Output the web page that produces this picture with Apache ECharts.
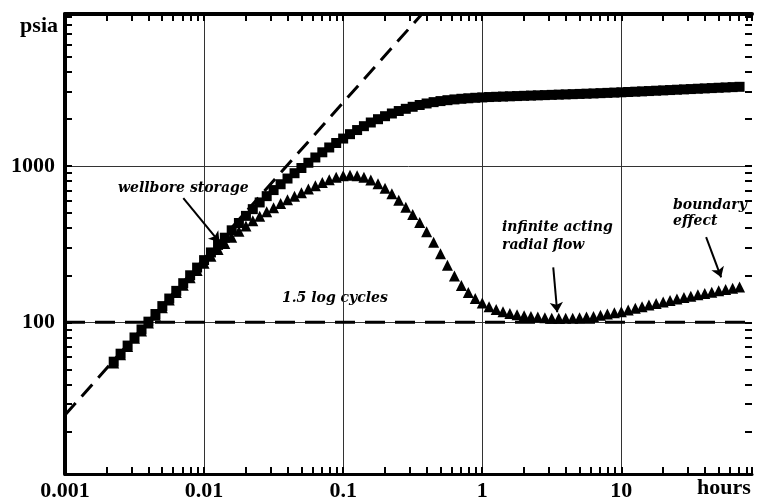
<!DOCTYPE html>
<html>
<head>
<meta charset="utf-8">
<style>
  html, body { margin: 0; padding: 0; background: #fff; }
  #chart { width: 757px; height: 504px; }
</style>
<script src="https://cdn.jsdelivr.net/npm/echarts@6/dist/echarts.min.js"></script>
</head>
<body>
<div id="chart"></div>
<script>
// elapsed time, hours
var hours = [0.00224, 0.00251, 0.00282, 0.00316, 0.00355, 0.00398, 0.00447, 0.00501, 0.00562, 0.00631, 0.00708, 0.00794, 0.00891,
  0.01, 0.0112, 0.0126, 0.0141, 0.0158, 0.0178, 0.02, 0.0224, 0.0251, 0.0282, 0.0316, 0.0355, 0.0398, 0.0447, 0.0501, 0.0562, 0.0631, 0.0708, 0.0794, 0.0891,
  0.1, 0.112, 0.126, 0.141, 0.158, 0.178, 0.2, 0.224, 0.251, 0.282, 0.316, 0.355, 0.398, 0.447, 0.501, 0.562, 0.631, 0.708, 0.794, 0.891,
  1, 1.12, 1.26, 1.41, 1.58, 1.78, 2, 2.24, 2.51, 2.82, 3.16, 3.55, 3.98, 4.47, 5.01, 5.62, 6.31, 7.08, 7.94, 8.91,
  10, 11.2, 12.6, 14.1, 15.8, 17.8, 20, 22.4, 25.1, 28.2, 31.6, 35.5, 39.8, 44.7, 50.1, 56.2, 63.1, 70.8];

// pressure change (squares)
var pressure = [56, 63, 71, 80, 90, 101, 113, 127, 142, 159, 178, 200, 224,
  250, 280, 313, 348, 388, 432, 480, 530, 585, 642, 702, 765, 832, 900, 972, 1050, 1135, 1225, 1315, 1405,
  1500, 1600, 1700, 1800, 1900, 1995, 2085, 2170, 2250, 2325, 2395, 2460, 2515, 2565, 2605, 2640, 2670, 2695, 2715, 2735,
  2750, 2765, 2775, 2785, 2795, 2805, 2815, 2825, 2835, 2845, 2855, 2865, 2875, 2885, 2895, 2905, 2915, 2928, 2940, 2952,
  2965, 2978, 2992, 3006, 3020, 3035, 3050, 3065, 3080, 3095, 3110, 3125, 3140, 3155, 3170, 3185, 3200, 3215];

// pressure derivative (triangles)
var derivative = [55, 62, 70, 79, 88, 99, 111, 124, 139, 155, 173, 193, 215,
  239, 265, 292, 320, 350, 382, 414, 446, 478, 510, 542, 575, 608, 642, 676, 712, 748, 784, 818, 848,
  868, 875, 868, 848, 815, 770, 720, 665, 605, 545, 490, 435, 380, 325, 275, 232, 198, 172, 155, 142,
  133, 126, 121, 117, 114, 112, 110, 109, 108, 107, 106, 106, 106, 106, 107, 108, 109, 111, 113, 115,
  117, 120, 123, 126, 129, 132, 135, 138, 141, 144, 147, 150, 153, 156, 159, 162, 165, 168];

var storageLine = [[0.001, 25.5], [0.4, 10200]];
var radialLine = [[0.001, 100], [87, 100]];

var xLabels = ['0.001', '0.01', '0.1', '1', '10'];
var yLabels = ['100', '1000'];

// arrows: [from, to]
var arrows = [
  [[0.00709, 624], [0.0129, 326]],
  [[3.24, 225], [3.46, 116]],
  [[40.7, 351], [52.2, 194]]
];

var xMin = 0.001, xMax = 87, yMin = 10.7, yMax = 9400;
var serif = 'Liberation Serif';
var noteFont = 'DejaVu Serif';

var dom = document.getElementById('chart');
var myChart = echarts.init(dom);

function pairs(xs, ys) {
  return xs.map(function (x, i) { return [x, ys[i]]; });
}

// only decade values get a label, picked from the label lists
function decadeLabel(list) {
  return function (v) {
    var s = String(+Number(v).toPrecision(6));
    return list.indexOf(s) >= 0 ? s : '';
  };
}

// axis carrying only the inward ticks (no line, labels or grid lines)
function tickAxis(grid, pos, isX) {
  return {
    type: 'log', logBase: 10, gridIndex: grid, position: pos,
    min: isX ? xMin : yMin, max: isX ? xMax : yMax,
    axisLine: { show: false },
    axisTick: { show: true, inside: true, length: 7, lineStyle: { color: '#000', width: 2 } },
    minorTick: { show: true, splitNumber: 9, length: 7, lineStyle: { color: '#000', width: 2 } },
    axisLabel: { show: false },
    splitLine: { show: false }
  };
}

function note(x, y, text) {
  return { type: 'text', x: x, y: y, style: { text: text, fontFamily: noteFont,
    fontWeight: 'bold', fontStyle: 'italic', fontSize: 14, fill: '#000', verticalAlign: 'middle' } };
}

var gridBox = { left: 65, right: 5, top: 14, bottom: 30, outerBoundsMode: 'none' };

option = {
  backgroundColor: '#fff',
  animation: false,
  grid: [Object.assign({}, gridBox), Object.assign({}, gridBox)],
  xAxis: [
    {
      type: 'log', logBase: 10, gridIndex: 0, position: 'bottom', min: xMin, max: xMax,
      axisLine: { show: true, lineStyle: { color: '#000', width: 3 } },
      axisTick: { show: false },
      axisLabel: { margin: 6, color: '#000', fontFamily: serif, fontWeight: 'bold', fontSize: 22,
        formatter: decadeLabel(xLabels) },
      splitLine: { show: true, lineStyle: { color: ['#333', '#333', '#333', '#333', '#333', 'rgba(0,0,0,0)'], width: 1 } }
    },
    {
      type: 'log', logBase: 10, gridIndex: 0, position: 'top', min: xMin, max: xMax,
      axisLine: { show: true, lineStyle: { color: '#000', width: 4 } },
      axisTick: { show: false }, axisLabel: { show: false }, splitLine: { show: false }
    },
    tickAxis(1, 'bottom', true),
    tickAxis(1, 'top', true)
  ],
  yAxis: [
    {
      type: 'log', logBase: 10, gridIndex: 0, position: 'left', min: yMin, max: yMax,
      axisLine: { show: true, lineStyle: { color: '#000', width: 4 } },
      axisTick: { show: false },
      axisLabel: { margin: 10, color: '#000', fontFamily: serif, fontWeight: 'bold', fontSize: 22,
        formatter: decadeLabel(yLabels) },
      splitLine: { show: true, lineStyle: { color: '#333', width: 1 } }
    },
    tickAxis(0, 'right', false),
    tickAxis(1, 'left', false)
  ],
  series: [
    {
      name: 'storage', type: 'line', xAxisIndex: 0, yAxisIndex: 0,
      data: storageLine, showSymbol: false, symbol: 'none',
      lineStyle: { color: '#000', width: 3, type: [16, 9] }
    },
    {
      name: 'radial', type: 'line', xAxisIndex: 0, yAxisIndex: 0,
      data: radialLine, showSymbol: false, symbol: 'none',
      lineStyle: { color: '#000', width: 3, type: [20, 10] }
    },
    {
      name: 'pressure', type: 'scatter', xAxisIndex: 0, yAxisIndex: 0,
      data: pairs(hours, pressure), symbol: 'rect', symbolSize: 10,
      itemStyle: { color: '#000', opacity: 1 }
    },
    {
      name: 'derivative', type: 'scatter', xAxisIndex: 0, yAxisIndex: 0,
      data: pairs(hours, derivative), symbol: 'triangle', symbolSize: 11,
      itemStyle: { color: '#000', opacity: 1 }
    },
    {
      name: 'arrows', type: 'lines', coordinateSystem: 'cartesian2d',
      xAxisIndex: 0, yAxisIndex: 0,
      symbol: ['none', 'arrow'], symbolSize: 10,
      lineStyle: { color: '#000', width: 2, opacity: 1 },
      data: arrows.map(function (a) { return { coords: a }; })
    }
  ],
  graphic: [
    { type: 'text', x: 58, y: 26, style: { text: 'psia', fontFamily: serif, fontWeight: 'bold',
      fontSize: 22, fill: '#000', align: 'right', verticalAlign: 'middle' } },
    { type: 'text', x: 697, y: 488, style: { text: 'hours', fontFamily: serif, fontWeight: 'bold',
      fontSize: 22, fill: '#000', verticalAlign: 'middle' } },
    note(118, 188, 'wellbore storage'),
    note(282, 298, '1.5 log cycles'),
    note(502, 227, 'infinite acting'),
    note(502, 245, 'radial flow'),
    note(673, 205, 'boundary'),
    note(673, 221, 'effect')
  ]
};

if (option && typeof option === 'object') {
  myChart.setOption(option, true);
}
</script>
</body>
</html>
